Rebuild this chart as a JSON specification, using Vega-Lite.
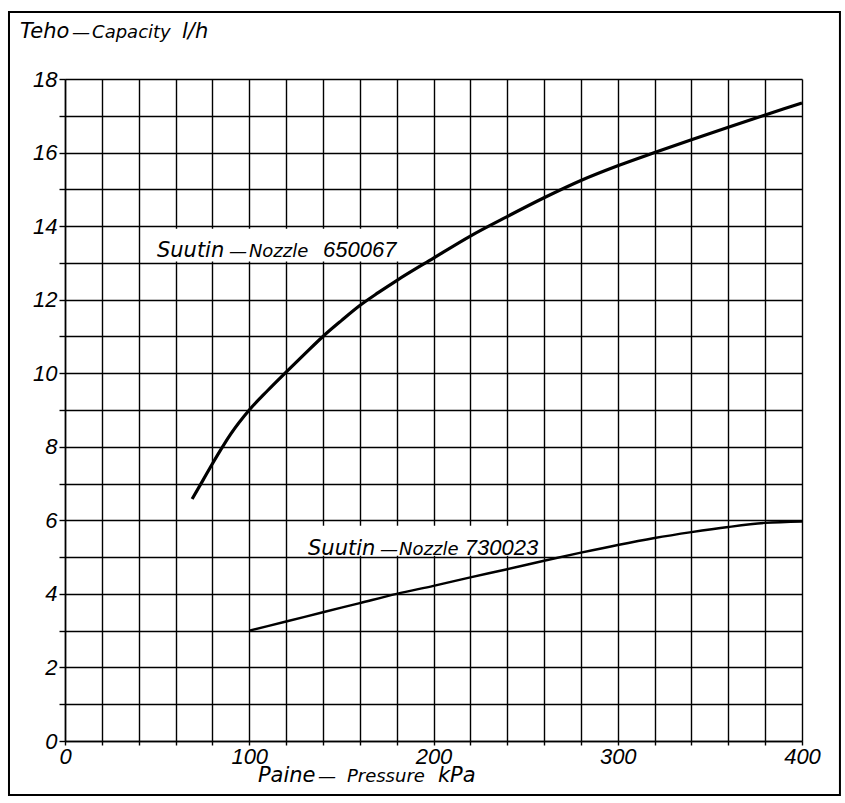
{
  "$schema": "https://vega.github.io/schema/vega-lite/v6.json",
  "width": 737,
  "height": 662,
  "autosize": {"type": "none"},
  "padding": {"left": 65, "top": 79, "right": 43, "bottom": 62},
  "background": "white",
  "config": {
    "view": {"stroke": null},
    "axis": {
      "grid": true,
      "gridColor": "#000000",
      "gridOpacity": 1,
      "gridWidth": 1.4,
      "domain": true,
      "domainColor": "#000000",
      "domainWidth": 1.5,
      "ticks": true,
      "tickColor": "#000000",
      "tickWidth": 1.4,
      "tickCount": 200,
      "labelFont": "Liberation Sans",
      "labelFontSize": 22,
      "labelFontStyle": "italic",
      "labelColor": "#000000",
      "labelOverlap": false,
      "labelFlush": false,
      "labelBound": false,
      "title": null
    }
  },
  "datasets": {
    "curves": [
      {"series": "650067", "p": 69, "q": 6.58},
      {"series": "650067", "p": 75, "q": 7.1},
      {"series": "650067", "p": 80, "q": 7.54},
      {"series": "650067", "p": 86, "q": 8.04},
      {"series": "650067", "p": 90, "q": 8.35},
      {"series": "650067", "p": 100, "q": 9.0},
      {"series": "650067", "p": 110, "q": 9.53},
      {"series": "650067", "p": 120, "q": 10.03},
      {"series": "650067", "p": 130, "q": 10.52},
      {"series": "650067", "p": 140, "q": 11.0},
      {"series": "650067", "p": 150, "q": 11.43},
      {"series": "650067", "p": 160, "q": 11.84},
      {"series": "650067", "p": 170, "q": 12.19},
      {"series": "650067", "p": 180, "q": 12.52},
      {"series": "650067", "p": 200, "q": 13.13},
      {"series": "650067", "p": 220, "q": 13.73},
      {"series": "650067", "p": 240, "q": 14.26},
      {"series": "650067", "p": 260, "q": 14.77},
      {"series": "650067", "p": 280, "q": 15.24},
      {"series": "650067", "p": 300, "q": 15.64},
      {"series": "650067", "p": 320, "q": 16.0},
      {"series": "650067", "p": 340, "q": 16.35},
      {"series": "650067", "p": 360, "q": 16.69},
      {"series": "650067", "p": 380, "q": 17.02},
      {"series": "650067", "p": 400, "q": 17.35},
      {"series": "730023", "p": 100, "q": 3.0},
      {"series": "730023", "p": 120, "q": 3.25},
      {"series": "730023", "p": 140, "q": 3.5},
      {"series": "730023", "p": 160, "q": 3.75},
      {"series": "730023", "p": 180, "q": 4.0},
      {"series": "730023", "p": 200, "q": 4.22},
      {"series": "730023", "p": 220, "q": 4.45},
      {"series": "730023", "p": 240, "q": 4.67},
      {"series": "730023", "p": 260, "q": 4.9},
      {"series": "730023", "p": 280, "q": 5.12},
      {"series": "730023", "p": 300, "q": 5.33},
      {"series": "730023", "p": 320, "q": 5.52},
      {"series": "730023", "p": 340, "q": 5.68},
      {"series": "730023", "p": 360, "q": 5.82},
      {"series": "730023", "p": 380, "q": 5.93},
      {"series": "730023", "p": 400, "q": 5.97}
    ],
    "boxes": [
      {"p1": 45, "p2": 184, "v1": 13.04, "v2": 13.93},
      {"p1": 125, "p2": 258, "v1": 5.04, "v2": 5.85}
    ],
    "words": [
      {"text": "Teho", "p": -24.4, "v": 19.11},
      {"text": "l/h", "p": 63.5, "v": 19.11},
      {"text": "Paine", "p": 104.7, "v": -1.115},
      {"text": "kPa", "p": 202.4, "v": -1.115},
      {"text": "Suutin", "p": 49.9, "v": 13.16},
      {"text": "Suutin", "p": 131.9, "v": 5.07}
    ],
    "numbers": [
      {"text": "650067", "p": 140, "v": 13.16},
      {"text": "730023", "p": 217, "v": 5.07}
    ],
    "smallText": [
      {"text": "—", "p": 3.8, "v": 19.11},
      {"text": "Capacity", "p": 14.7, "v": 19.11},
      {"text": "—", "p": 137.3, "v": -1.115},
      {"text": "Pressure", "p": 153, "v": -1.115},
      {"text": "—", "p": 89, "v": 13.16},
      {"text": "Nozzle", "p": 99.8, "v": 13.16},
      {"text": "—", "p": 171, "v": 5.07},
      {"text": "Nozzle", "p": 181.3, "v": 5.07}
    ]
  },
  "layer": [
    {
      "data": {"name": "curves"},
      "transform": [{"filter": "datum.series === '650067'"}],
      "mark": {"type": "line", "color": "#000000", "strokeWidth": 3.2, "interpolate": "monotone"},
      "encoding": {
        "x": {
          "field": "p",
          "type": "quantitative",
          "scale": {"domain": [0, 400], "nice": false, "zero": false},
          "axis": {
            "values": [0, 20, 40, 60, 80, 100, 120, 140, 160, 180, 200, 220, 240, 260, 280, 300, 320, 340, 360, 380, 400],
            "labelExpr": "datum.value % 100 === 0 ? datum.label : ''",
            "tickCount": 200,
            "tickSize": 4,
            "labelPadding": 1,
            "format": "d"
          }
        },
        "y": {
          "field": "q",
          "type": "quantitative",
          "scale": {"domain": [0, 18], "nice": false, "zero": false},
          "axis": {
            "values": [0, 1, 2, 3, 4, 5, 6, 7, 8, 9, 10, 11, 12, 13, 14, 15, 16, 17, 18],
            "labelExpr": "datum.value % 2 === 0 ? datum.label : ''",
            "tickCount": 200,
            "tickSize": 6,
            "labelPadding": 2,
            "format": "d"
          }
        }
      }
    },
    {
      "data": {"name": "curves"},
      "transform": [{"filter": "datum.series === '730023'"}],
      "mark": {"type": "line", "color": "#000000", "strokeWidth": 2.4, "interpolate": "monotone"},
      "encoding": {
        "x": {"field": "p", "type": "quantitative"},
        "y": {"field": "q", "type": "quantitative"}
      }
    },
    {
      "data": {"name": "boxes"},
      "mark": {"type": "rect", "fill": "#ffffff", "stroke": null},
      "encoding": {
        "x": {"field": "p1", "type": "quantitative"},
        "x2": {"field": "p2"},
        "y": {"field": "v1", "type": "quantitative"},
        "y2": {"field": "v2"}
      }
    },
    {
      "data": {"name": "words"},
      "mark": {"type": "text", "align": "left", "baseline": "alphabetic", "font": "DejaVu Sans", "fontSize": 21, "fontStyle": "italic", "color": "#000000", "clip": false},
      "encoding": {
        "x": {"field": "p", "type": "quantitative"},
        "y": {"field": "v", "type": "quantitative"},
        "text": {"field": "text"}
      }
    },
    {
      "data": {"name": "numbers"},
      "mark": {"type": "text", "align": "left", "baseline": "alphabetic", "font": "Liberation Sans", "fontSize": 22, "fontStyle": "italic", "color": "#000000", "clip": false},
      "encoding": {
        "x": {"field": "p", "type": "quantitative"},
        "y": {"field": "v", "type": "quantitative"},
        "text": {"field": "text"}
      }
    },
    {
      "data": {"name": "smallText"},
      "mark": {"type": "text", "align": "left", "baseline": "alphabetic", "font": "DejaVu Sans", "fontSize": 18, "fontStyle": "italic", "color": "#000000", "clip": false},
      "encoding": {
        "x": {"field": "p", "type": "quantitative"},
        "y": {"field": "v", "type": "quantitative"},
        "text": {"field": "text"}
      }
    },
    {
      "data": {"values": [{}]},
      "mark": {"type": "rect", "fill": "transparent", "stroke": "#000000", "strokeWidth": 2, "clip": false},
      "encoding": {
        "x": {"datum": -30.4, "type": "quantitative"},
        "x2": {"datum": 420.6},
        "y": {"datum": 19.82, "type": "quantitative"},
        "y2": {"datum": -1.468}
      }
    }
  ]
}
